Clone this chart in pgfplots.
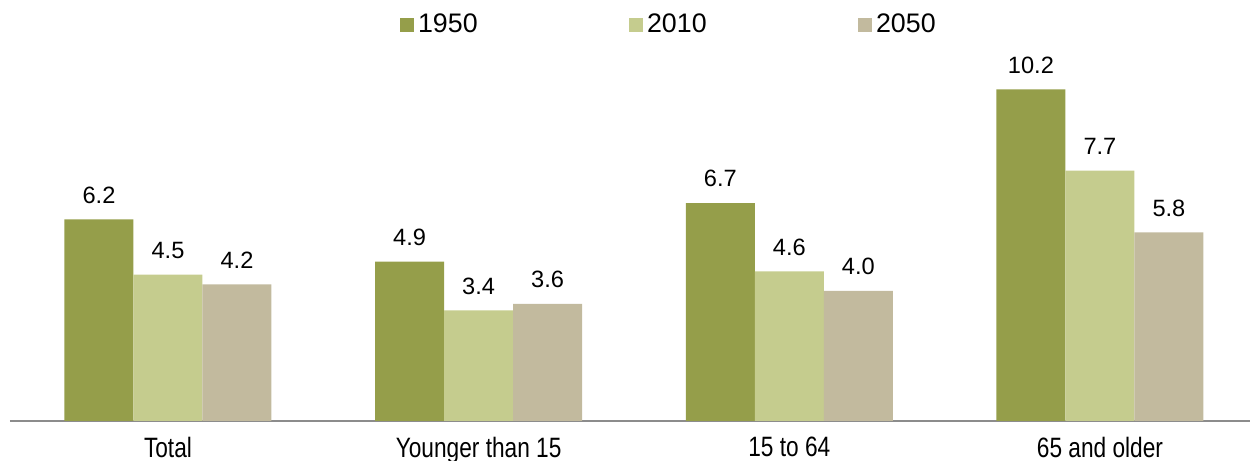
\documentclass[border=0pt]{standalone}
\usepackage{fontspec}
\setmainfont{Liberation Sans}
\newfontfamily\narrowfont[FakeStretch=0.81]{Liberation Sans}
\usepackage{pgfplots}
\pgfplotsset{compat=1.18}

\definecolor{c1950}{HTML}{959E4A}
\definecolor{c2010}{HTML}{C5CC8E}
\definecolor{c2050}{HTML}{C2BA9E}
\definecolor{axisgray}{HTML}{8C8C8C}

\begin{document}
\begin{tikzpicture}
\begin{axis}[
    scale only axis,
    width=620pt, height=190.5pt,
    ybar=0pt, bar width=34.5pt,
    xmin=-0.5085, xmax=3.483,
    ymin=0, ymax=11.72,
    axis y line=none,
    axis x line=bottom,
    x axis line style={-, draw=axisgray, line width=1pt},
    xtick={0,1,2,3},
    xticklabels={Total, Younger than 15, 15 to 64, 65 and older},
    xtick style={draw=none},
    xticklabel style={font=\narrowfont\fontsize{14}{16}\selectfont, yshift=-2.5pt},
    /pgf/number format/assume math mode=true,
    nodes near coords={\pgfmathprintnumber[fixed,fixed zerofill,precision=1]{\pgfplotspointmeta}},
    every node near coord/.append style={font=\fontsize{11.8}{13}\selectfont, yshift=4.5pt, text=black},
    legend columns=3,
    legend style={draw=none, at={(0.532,1.039)}, anchor=center,
        font=\fontsize{13.4}{15}\selectfont,
        /tikz/every even column/.append style={column sep=73.5pt}},
    legend image code/.code={\fill[#1] (0pt,-3.6pt) rectangle (7.2pt,3.6pt);},
]
\addplot[fill=c1950, draw=none] coordinates {(0,6.2) (1,4.9) (2,6.7) (3,10.2)};
\addplot[fill=c2010, draw=none] coordinates {(0,4.5) (1,3.4) (2,4.6) (3,7.7)};
\addplot[fill=c2050, draw=none] coordinates {(0,4.2) (1,3.6) (2,4.0) (3,5.8)};
\legend{1950, 2010, 2050}
\end{axis}
\pgfresetboundingbox
\path (-5pt,-20pt) rectangle (620pt,210.5pt);
\end{tikzpicture}
\end{document}
